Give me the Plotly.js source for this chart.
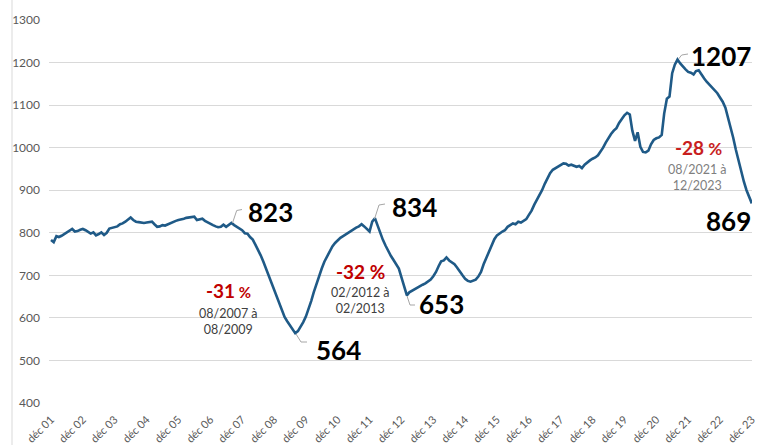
<!DOCTYPE html>
<html>
<head>
<meta charset="utf-8">
<script src="https://cdn.plot.ly/plotly-3.0.1.min.js"></script>
<style>html,body{margin:0;padding:0;background:#fff}#chart{width:773px;height:445px}</style>
</head>
<body>
<div id="chart"></div>
<script>
// Monthly index values, déc 2001 -> déc 2023
const startYear = 2001, startMonth = 12;
const values = [
  783,
  778, 792, 790, 793, 797, 800, 805, 809, 803, 804, 807, 809,
  806, 801, 798, 801, 794, 797, 801, 795, 800, 810, 812, 813,
  815, 820, 822, 826, 830, 836, 830, 826, 825, 824, 823, 824,
  825, 826, 820, 814, 815, 818, 817, 820, 824, 826, 828, 830,
  831, 833, 835, 836, 837, 838, 830, 832, 833, 828, 824, 822,
  818, 815, 813, 814, 819, 814, 818, 823, 818, 814, 810, 806,
  799, 798, 790, 784, 772, 760, 747, 732, 715, 700, 683, 666,
  650, 633, 616, 602, 592, 582, 572, 564, 569, 578, 590, 603,
  620, 640, 660, 680, 700, 716, 732, 745, 757, 768, 776, 783,
  788, 792, 796, 800, 803, 808, 812, 815, 820, 815, 810, 803,
  826, 834, 818, 800, 784, 770, 757, 746, 736, 727, 716, 695,
  672, 653, 660, 664, 667, 672, 674, 678, 681, 686, 690, 698,
  708, 722, 733, 735, 742, 735, 730, 726, 718, 708, 700, 692,
  687, 685, 688, 690, 697, 708, 726, 742, 757, 770, 785, 794,
  799, 803, 806, 814, 818, 822, 820, 826, 824, 829, 832, 842,
  852, 866, 876, 888, 900, 915, 928, 940, 948, 952, 956, 960,
  963, 962, 958, 960, 957, 955, 957, 952, 960, 966, 970, 974,
  977, 982, 990, 1000, 1012, 1024, 1032, 1040, 1046, 1058, 1068, 1076,
  1082, 1078, 1040, 1016, 1036, 1002, 990, 989, 993, 1008, 1018, 1022,
  1024, 1030, 1080, 1115, 1120, 1175, 1195, 1207, 1198, 1190, 1184, 1178,
  1176, 1172, 1180, 1182, 1172, 1163, 1155, 1148, 1142, 1136, 1128, 1118,
  1108, 1094, 1074, 1050, 1024, 995, 968, 944, 920, 900, 884, 869
];
const tickLabels = ["déc 01","déc 02","déc 03","déc 04","déc 05","déc 06","déc 07","déc 08",
  "déc 09","déc 10","déc 11","déc 12","déc 13","déc 14","déc 15","déc 16","déc 17","déc 18",
  "déc 19","déc 20","déc 21","déc 22","déc 23"];
const peakLabels = ["823", "564", "834", "653", "1207", "869"];
const changeLabels = ["-31", "-32", "-28"];
const periodLabels = ["08/2007 à<br>08/2009", "02/2012 à<br>02/2013", "08/2021 à<br>12/2023"];

function pad(n){return (n<10?'0':'')+n;}
const dates = values.map((v,i)=>{
  const t = startMonth - 1 + i;
  const y = startYear + Math.floor(t/12);
  const m = t % 12 + 1;
  return y + '-' + pad(m) + '-01';
});
const tickVals = tickLabels.map((l,i)=> (startYear+i) + '-12-01');

// pixel helpers for layout placement
const L = 49, R = 752, T = 20, B = 403;
const px = x => (x - L) / (R - L);
const py = y => (B - y) / (B - T);

const FONT = 'Lato, "Open Sans", sans-serif';
const RED = '#C00000';

function big(text, x, y){
  return {text:'<b>'+text+'</b>', x:px(x), y:py(y), xref:'paper', yref:'paper',
    xanchor:'center', yanchor:'middle', showarrow:false,
    font:{family:FONT, size:26, color:'#000'}};
}
function pct(text, x, y, pctSize, color){
  return {text:'<b>'+text+'</b><b><span style="font-size:'+pctSize+'px"> %</span></b>', x:px(x), y:py(y),
    xref:'paper', yref:'paper', xanchor:'center', yanchor:'middle', showarrow:false,
    font:{family:FONT, size:19, color:color}};
}
function period(text, x, y, color){
  return {text:text, x:px(x), y:py(y), xref:'paper', yref:'paper',
    xanchor:'center', yanchor:'middle', showarrow:false,
    font:{family:FONT, size:12.5, color:color}};
}
function leader(pts){
  let d = 'M ' + pts.map(p => px(p[0]) + ',' + py(p[1])).join(' L ');
  return {type:'path', xref:'paper', yref:'paper', path:d,
    line:{color:'#A6A6A6', width:1}};
}

const annotations = [
  big(peakLabels[0], 270, 212),
  big(peakLabels[1], 338, 350),
  big(peakLabels[2], 414, 207),
  big(peakLabels[3], 441, 304),
  big(peakLabels[4], 721, 56),
  big(peakLabels[5], 728, 221),
  pct(changeLabels[0], 228, 290, 15, RED),
  pct(changeLabels[1], 360, 271, 19, RED),
  pct(changeLabels[2], 698, 147, 17, '#C81E1E'),
  period(periodLabels[0], 228, 321, '#404040'),
  period(periodLabels[1], 360, 300, '#404040'),
  period(periodLabels[2], 697, 177, '#7F7F7F')
];

const shapes = [
  leader([[232.5,223],[236.7,210.5],[242,209.5]]),
  leader([[296,334],[301,342],[307,342]]),
  leader([[374.5,219],[379,205],[385,204]]),
  leader([[407,296],[410,305],[415,305]]),
  leader([[678.5,59],[681.7,55],[688,54]]),
  {type:'line', xref:'paper', yref:'paper', x0:px(12), x1:px(12), y0:py(0), y1:py(445),
    line:{color:'#D9D9D9', width:1}}
];

const trace = {
  x: dates, y: values, type:'scatter', mode:'lines',
  line:{color:'#1F5A87', width:2.6, shape:'linear'},
  hoverinfo:'skip'
};

const layout = {
  width:773, height:445,
  margin:{l:L, r:773-R, t:T, b:445-B, pad:0},
  paper_bgcolor:'#fff', plot_bgcolor:'#fff',
  showlegend:false,
  font:{family:FONT, color:'#595959'},
  xaxis:{
    type:'date',
    range:['2001-11-08','2023-12-03'],
    tickmode:'array', tickvals:tickVals, ticktext:tickLabels,
    tickangle:-45, tickfont:{family:FONT, size:11, color:'#595959'},
    ticklabelstandoff:7,
    showgrid:false, zeroline:false, showline:false, ticks:'',
    fixedrange:true
  },
  yaxis:{
    range:[400,1300], tickmode:'linear', tick0:400, dtick:100,
    showgrid:true, gridcolor:'#D9D9D9', gridwidth:1,
    zeroline:false, showline:false, ticks:'',
    tickfont:{family:FONT, size:12, color:'#595959'},
    ticklabelstandoff:8,
    fixedrange:true
  },
  annotations: annotations,
  shapes: shapes
};

Plotly.newPlot('chart', [trace], layout, {displayModeBar:false, staticPlot:true});
</script>
</body>
</html>
